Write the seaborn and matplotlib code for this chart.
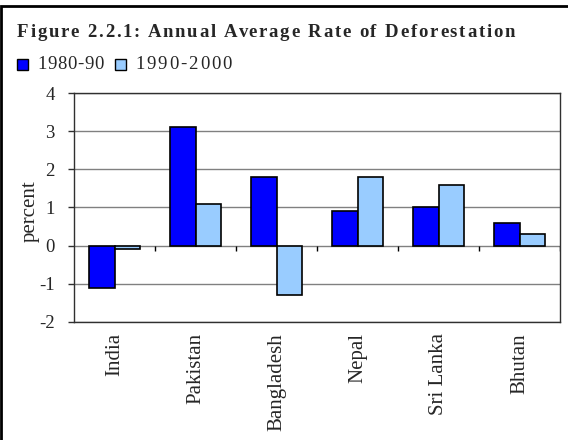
import matplotlib
matplotlib.use('Agg')
import matplotlib.pyplot as plt
from matplotlib.font_manager import FontProperties
from matplotlib.patches import Rectangle
import numpy as np
import pandas as pd
import seaborn as sns

countries = ['India', 'Pakistan', 'Bangladesh', 'Nepal', 'Sri Lanka', 'Bhutan']
periods = ['1980-90', '1990-2000']
rate_1980_90 = [-1.1, 3.1, 1.8, 0.9, 1.0, 0.6]
rate_1990_2000 = [-0.1, 1.1, -1.3, 1.8, 1.6, 0.3]
y_ticks = [-2, -1, 0, 1, 2, 3, 4]
colors = ['#0000FF', '#99CCFF']
title = 'Figure 2.2.1: Annual Average Rate of Deforestation'

# long form table for seaborn
frame = pd.DataFrame({
    'country': countries * 2,
    'period': [periods[0]] * len(countries) + [periods[1]] * len(countries),
    'rate': rate_1980_90 + rate_1990_2000,
})

sns.set_theme(style='white')
plt.rcParams['font.family'] = ['Liberation Serif', 'DejaVu Serif']
plt.rcParams['axes.unicode_minus'] = False

W, H = 568, 440
fig = plt.figure(figsize=(W / 100, H / 100), dpi=100)
ax = fig.add_axes([74 / W, 1 - 322 / H, (560 - 74) / W, (322 - 93) / H])


def spaced_text(x_px, y_px, s, width_px, fp):
    """draw s char by char so it fills width_px (the source text is letter spaced)"""
    renderer = fig.canvas.get_renderer()

    def wid(t):
        return renderer.get_text_width_height_descent(t, fp, ismath=False)[0]

    bar_w = wid('|')
    extra = (width_px - wid(s)) / (len(s) - 1)
    for i, ch in enumerate(s):
        off = wid(s[:i] + '|') - bar_w if i else 0
        fig.text((x_px + off + i * extra) / W, 1 - y_px / H, ch,
                 fontproperties=fp, va='baseline', ha='left')


sns.barplot(data=frame, x='country', y='rate', hue='period', order=countries,
            hue_order=periods, palette=colors, width=0.62, gap=0,
            edgecolor='black', linewidth=1.2, saturation=1, legend=False, ax=ax)

ax.set_xlim(-0.5, len(countries) - 0.5)
ax.set_ylim(y_ticks[0], y_ticks[-1])
ax.set_yticks(y_ticks)
ax.yaxis.grid(True, color='#808080', lw=1)
ax.set_axisbelow(True)
for s in ax.spines.values():
    s.set_color('#303030')
    s.set_linewidth(1)

# category boundary ticks hanging from the zero line
ax.vlines(np.arange(len(countries)) + 0.5, 0, -0.15, color='black', lw=1)

ax.tick_params(axis='y', left=True, length=4, width=1, color='#303030',
               direction='out', pad=10, labelsize=13.5)
ax.tick_params(axis='x', length=0, pad=8, labelsize=15, labelrotation=90)
ax.set_xlabel('')
ax.set_ylabel('')
fig.text(30 / W, 1 - 211 / H, 'percent', rotation=90, ha='center', va='center',
         fontsize=15)

# title
spaced_text(17, 37, title, 498, FontProperties(family='Liberation Serif', size=13.5, weight='bold'))

# legend, drawn by hand so the text can be spaced like the source
leg_fp = FontProperties(family='Liberation Serif', size=13.5)
for x0, w, c, lab in [(17, 67, colors[0], periods[0]), (115, 97, colors[1], periods[1])]:
    fig.add_artist(Rectangle((x0 / W, 1 - 70 / H), 11 / W, 11 / H, transform=fig.transFigure,
                             fc=c, ec='black', lw=1))
    spaced_text(x0 + 20, 69, lab, w, leg_fp)

fig.add_artist(Rectangle((1 / W, -0.05), 1.1, 1.05 - 6 / H, transform=fig.transFigure,
                         fill=False, lw=2, ec='black'))

fig.savefig('out.png', dpi=100)
